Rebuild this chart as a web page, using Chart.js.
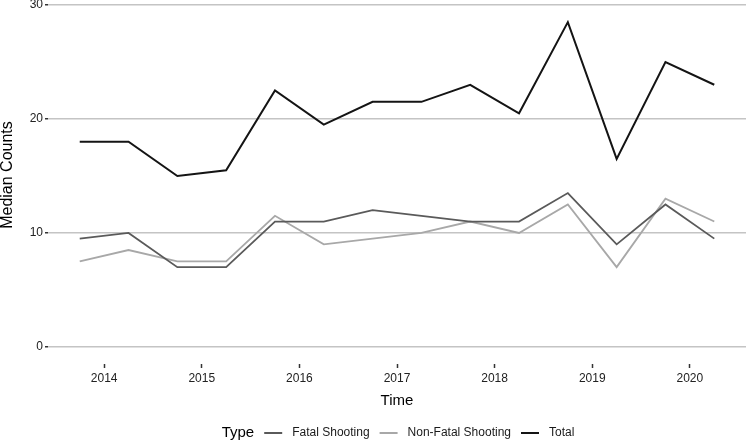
<!DOCTYPE html>
<html>
<head>
<meta charset="utf-8">
<script src="https://cdn.jsdelivr.net/npm/chart.js@4"></script>
<style>
  html, body { margin: 0; padding: 0; background: #fff; }
  #wrap { width: 746px; height: 443px; position: relative; }
</style>
</head>
<body>
<div id="wrap"><canvas id="chart"></canvas></div>
<script>
// half-year midpoints (decimal years)
const times = [2013.75, 2014.25, 2014.75, 2015.25, 2015.75, 2016.25, 2016.75,
               2017.25, 2017.75, 2018.25, 2018.75, 2019.25, 2019.75, 2020.25];
const fatal    = [9.5, 10, 7, 7, 11, 11, 12, 11.5, 11, 11, 13.5, 9, 12.5, 9.5];
const nonFatal = [7.5, 8.5, 7.5, 7.5, 11.5, 9, 9.5, 10, 11, 10, 12.5, 7, 13, 11];
const total    = [18, 18, 15, 15.5, 22.5, 19.5, 21.5, 21.5, 23, 20.5, 28.5, 16.5, 25, 23];
const xTicks = [2014, 2015, 2016, 2017, 2018, 2019, 2020];
const yTicks = [0, 10, 20, 30];
const seriesNames = ["Fatal Shooting", "Non-Fatal Shooting", "Total"];
const yTitle = "Median Counts";

const FONT = "'Liberation Sans', Arial, Helvetica, sans-serif";

function pts(vals) {
  return vals.map((v, i) => ({ x: times[i], y: v }));
}

// y title + inline legend drawn ggplot style
const extras = {
  id: "extras",
  afterDraw(chart) {
    const ctx = chart.ctx;
    ctx.save();
    ctx.textBaseline = "middle";
    ctx.textAlign = "center";
    ctx.fillStyle = "#000";
    ctx.font = "16px " + FONT;
    ctx.translate(8, 175);
    ctx.rotate(-Math.PI / 2);
    ctx.fillText(yTitle, 0, 0);
    ctx.restore();

    const y = 433;
    ctx.save();
    ctx.textBaseline = "middle";
    ctx.textAlign = "left";
    ctx.font = "15px " + FONT;
    const titleW = ctx.measureText("Type").width;
    ctx.font = "12px " + FONT;
    const items = chart.data.datasets.map(ds => ({
      label: ds.label, color: ds.borderColor, width: ctx.measureText(ds.label).width
    }));
    const sw = 18, gap1 = 10, gap2 = 10;
    let w = titleW + gap1;
    items.forEach(it => { w += sw + gap2 + it.width + gap2; });
    w -= gap2;
    let x = 398 - w / 2;
    ctx.fillStyle = "#000";
    ctx.font = "15px " + FONT;
    ctx.fillText("Type", x, y);
    x += titleW + gap1;
    ctx.font = "12px " + FONT;
    items.forEach(it => {
      ctx.strokeStyle = it.color;
      ctx.lineWidth = 2;
      ctx.beginPath();
      ctx.moveTo(x, y);
      ctx.lineTo(x + sw, y);
      ctx.stroke();
      x += sw + gap2;
      ctx.fillStyle = "#1a1a1a";
      ctx.fillText(it.label, x, y);
      x += it.width + gap2;
    });
    ctx.restore();
  }
};

new Chart(document.getElementById("chart"), {
  type: "line",
  data: {
    datasets: [
      { label: seriesNames[0], data: pts(fatal), borderColor: "#5a5a5a", borderWidth: 1.8 },
      { label: seriesNames[1], data: pts(nonFatal), borderColor: "#a8a8a8", borderWidth: 1.8 },
      { label: seriesNames[2], data: pts(total), borderColor: "#141414", borderWidth: 2 }
    ]
  },
  options: {
    responsive: true,
    maintainAspectRatio: false,
    animation: false,
    elements: { point: { radius: 0 }, line: { tension: 0 } },
    layout: { padding: { top: 5, right: 0, left: 0, bottom: 33 } },
    plugins: { legend: { display: false }, tooltip: { enabled: false } },
    scales: {
      x: {
        type: "linear",
        min: 2013.425,
        max: 2020.575,
        afterBuildTicks: s => { s.ticks = xTicks.map(v => ({ value: v })); },
        afterFit: s => { s.height = 46; s.paddingLeft = 0; s.paddingRight = 0; },
        ticks: {
          callback: v => String(v),
          color: "#222",
          font: { family: FONT, size: 12 },
          padding: 3,
          maxRotation: 0
        },
        grid: { drawOnChartArea: false, drawTicks: true, tickLength: 4, tickColor: "#333", tickWidth: 1.5 },
        border: { display: false },
        title: { display: true, text: "Time", color: "#000", font: { family: FONT, size: 15 }, padding: 0 }
      },
      y: {
        min: -1.5,
        max: 30,
        afterBuildTicks: s => { s.ticks = yTicks.map(v => ({ value: v })); },
        afterFit: s => { s.width = 48; s.paddingTop = 0; s.paddingBottom = 0; },
        ticks: {
          color: "#222",
          font: { family: FONT, size: 12 },
          padding: 2
        },
        grid: { color: "#c4c4c4", lineWidth: 1.5, tickLength: 3, tickColor: "#333", tickWidth: 1.5 },
        border: { display: false },
        title: { display: false }
      }
    }
  },
  plugins: [extras]
});
</script>
</body>
</html>
